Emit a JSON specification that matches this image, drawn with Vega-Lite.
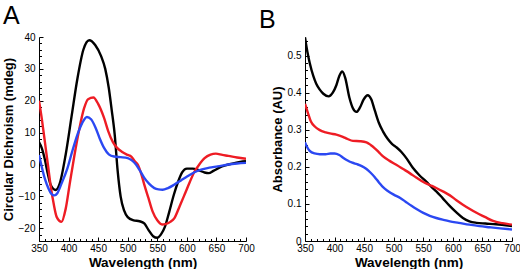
{
  "$schema": "https://vega.github.io/schema/vega-lite/v6.json",
  "padding": {"left": 2, "top": 4, "right": 0, "bottom": 0},
  "background": "white",
  "config": {
    "view": {"stroke": null},
    "font": "Liberation Sans",
    "axis": {
      "grid": false,
      "domainColor": "black",
      "domainWidth": 1,
      "tickColor": "black",
      "tickWidth": 1,
      "labelColor": "black",
      "labelFont": "Liberation Sans",
      "labelFontSize": 10,
      "titleFont": "Liberation Sans",
      "titleFontWeight": "bold",
      "titleColor": "black",
      "labelOverlap": false,
      "labelFlush": false
    },
    "title": {"font": "Liberation Sans", "fontWeight": "normal", "fontSize": 25, "color": "black", "anchor": "start", "frame": "group"}
  },
  "datasets": {
    "cd": [
      {"wl":350,"s":"1","v":7},{"wl":355,"s":"1","v":5},{"wl":360,"s":"1","v":1.5},{"wl":365,"s":"1","v":-3},{"wl":370,"s":"1","v":-6.5},{"wl":378,"s":"1","v":-8},{"wl":385,"s":"1","v":-6},{"wl":395,"s":"1","v":3},{"wl":405,"s":"1","v":15},{"wl":415,"s":"1","v":27},{"wl":425,"s":"1","v":36},{"wl":435,"s":"1","v":39},{"wl":445,"s":"1","v":37.5},{"wl":455,"s":"1","v":34},{"wl":462,"s":"1","v":30},{"wl":468,"s":"1","v":24},{"wl":473,"s":"1","v":17},{"wl":478,"s":"1","v":9.4},{"wl":483,"s":"1","v":-2},{"wl":488,"s":"1","v":-10},{"wl":494,"s":"1","v":-14.5},{"wl":500,"s":"1","v":-16.5},{"wl":510,"s":"1","v":-17.5},{"wl":520,"s":"1","v":-17.8},{"wl":528,"s":"1","v":-18.5},{"wl":535,"s":"1","v":-20.5},{"wl":543,"s":"1","v":-22.5},{"wl":550,"s":"1","v":-23},{"wl":556,"s":"1","v":-22},{"wl":563,"s":"1","v":-19.5},{"wl":570,"s":"1","v":-15},{"wl":578,"s":"1","v":-9.5},{"wl":585,"s":"1","v":-5.5},{"wl":592,"s":"1","v":-2.5},{"wl":600,"s":"1","v":-1.3},{"wl":610,"s":"1","v":-1.3},{"wl":620,"s":"1","v":-1.8},{"wl":630,"s":"1","v":-2.5},{"wl":637,"s":"1","v":-2.7},{"wl":645,"s":"1","v":-2},{"wl":655,"s":"1","v":-1},{"wl":665,"s":"1","v":-0.3},{"wl":675,"s":"1","v":0.2},{"wl":690,"s":"1","v":0.8},{"wl":700,"s":"1","v":1},
      {"wl":350,"s":"2","v":20},{"wl":355,"s":"2","v":14},{"wl":360,"s":"2","v":7},{"wl":365,"s":"2","v":0},{"wl":370,"s":"2","v":-7},{"wl":375,"s":"2","v":-12.5},{"wl":380,"s":"2","v":-16.5},{"wl":388,"s":"2","v":-18},{"wl":395,"s":"2","v":-14},{"wl":402,"s":"2","v":-6},{"wl":410,"s":"2","v":3},{"wl":418,"s":"2","v":11},{"wl":426,"s":"2","v":17.5},{"wl":433,"s":"2","v":20.5},{"wl":442,"s":"2","v":21},{"wl":450,"s":"2","v":19},{"wl":460,"s":"2","v":14.6},{"wl":467,"s":"2","v":10.5},{"wl":475,"s":"2","v":7},{"wl":482,"s":"2","v":5.2},{"wl":490,"s":"2","v":4},{"wl":500,"s":"2","v":3},{"wl":506,"s":"2","v":2.5},{"wl":512,"s":"2","v":1},{"wl":517,"s":"2","v":0},{"wl":523,"s":"2","v":-3},{"wl":528,"s":"2","v":-6.3},{"wl":535,"s":"2","v":-10.5},{"wl":542,"s":"2","v":-14.7},{"wl":550,"s":"2","v":-17.5},{"wl":558,"s":"2","v":-18.8},{"wl":565,"s":"2","v":-18.6},{"wl":572,"s":"2","v":-18},{"wl":579,"s":"2","v":-16.8},{"wl":588,"s":"2","v":-13},{"wl":596,"s":"2","v":-9.5},{"wl":605,"s":"2","v":-5.5},{"wl":613,"s":"2","v":-2.2},{"wl":621,"s":"2","v":0},{"wl":630,"s":"2","v":2},{"wl":640,"s":"2","v":3.1},{"wl":649,"s":"2","v":3.4},{"wl":660,"s":"2","v":3},{"wl":670,"s":"2","v":2.7},{"wl":685,"s":"2","v":2.2},{"wl":700,"s":"2","v":1.8},
      {"wl":350,"s":"3","v":3},{"wl":355,"s":"3","v":-1},{"wl":360,"s":"3","v":-4.5},{"wl":366,"s":"3","v":-7.5},{"wl":371,"s":"3","v":-9.2},{"wl":376,"s":"3","v":-9.7},{"wl":381,"s":"3","v":-9},{"wl":388,"s":"3","v":-6},{"wl":398,"s":"3","v":-1.2},{"wl":406,"s":"3","v":4},{"wl":415,"s":"3","v":9.4},{"wl":423,"s":"3","v":13},{"wl":431,"s":"3","v":14.9},{"wl":438,"s":"3","v":14.2},{"wl":446,"s":"3","v":11.4},{"wl":453,"s":"3","v":8},{"wl":460,"s":"3","v":5.2},{"wl":468,"s":"3","v":3.2},{"wl":477,"s":"3","v":2.5},{"wl":488,"s":"3","v":2.3},{"wl":500,"s":"3","v":2},{"wl":507,"s":"3","v":1.3},{"wl":514,"s":"3","v":0},{"wl":521,"s":"3","v":-2},{"wl":528,"s":"3","v":-4.2},{"wl":536,"s":"3","v":-6},{"wl":545,"s":"3","v":-7.4},{"wl":552,"s":"3","v":-7.8},{"wl":559,"s":"3","v":-7.9},{"wl":568,"s":"3","v":-7.4},{"wl":579,"s":"3","v":-6.3},{"wl":590,"s":"3","v":-5},{"wl":601,"s":"3","v":-3.7},{"wl":612,"s":"3","v":-2.5},{"wl":624,"s":"3","v":-1.6},{"wl":638,"s":"3","v":-1},{"wl":652,"s":"3","v":-0.6},{"wl":670,"s":"3","v":0},{"wl":685,"s":"3","v":0.3},{"wl":700,"s":"3","v":0.5}
    ],
    "abs": [
      {"wl":350,"s":"1","v":0.549},{"wl":354,"s":"1","v":0.51},{"wl":358,"s":"1","v":0.48},{"wl":364,"s":"1","v":0.445},{"wl":369,"s":"1","v":0.424},{"wl":375,"s":"1","v":0.408},{"wl":381,"s":"1","v":0.397},{"wl":390,"s":"1","v":0.39},{"wl":397,"s":"1","v":0.4},{"wl":403,"s":"1","v":0.42},{"wl":408,"s":"1","v":0.445},{"wl":413,"s":"1","v":0.457},{"wl":418,"s":"1","v":0.44},{"wl":425,"s":"1","v":0.387},{"wl":431,"s":"1","v":0.358},{"wl":437,"s":"1","v":0.348},{"wl":443,"s":"1","v":0.36},{"wl":449,"s":"1","v":0.381},{"wl":456,"s":"1","v":0.393},{"wl":462,"s":"1","v":0.382},{"wl":468,"s":"1","v":0.352},{"wl":475,"s":"1","v":0.318},{"wl":482,"s":"1","v":0.295},{"wl":490,"s":"1","v":0.275},{"wl":497,"s":"1","v":0.262},{"wl":505,"s":"1","v":0.252},{"wl":513,"s":"1","v":0.24},{"wl":522,"s":"1","v":0.222},{"wl":532,"s":"1","v":0.198},{"wl":543,"s":"1","v":0.178},{"wl":555,"s":"1","v":0.16},{"wl":565,"s":"1","v":0.144},{"wl":572,"s":"1","v":0.134},{"wl":583,"s":"1","v":0.115},{"wl":595,"s":"1","v":0.094},{"wl":606,"s":"1","v":0.077},{"wl":617,"s":"1","v":0.062},{"wl":628,"s":"1","v":0.053},{"wl":640,"s":"1","v":0.049},{"wl":655,"s":"1","v":0.047},{"wl":673,"s":"1","v":0.045},{"wl":700,"s":"1","v":0.04},
      {"wl":350,"s":"2","v":0.37},{"wl":355,"s":"2","v":0.345},{"wl":360,"s":"2","v":0.322},{"wl":367,"s":"2","v":0.308},{"wl":375,"s":"2","v":0.299},{"wl":385,"s":"2","v":0.293},{"wl":392,"s":"2","v":0.29},{"wl":403,"s":"2","v":0.287},{"wl":414,"s":"2","v":0.281},{"wl":422,"s":"2","v":0.275},{"wl":431,"s":"2","v":0.27},{"wl":443,"s":"2","v":0.269},{"wl":454,"s":"2","v":0.266},{"wl":461,"s":"2","v":0.259},{"wl":468,"s":"2","v":0.25},{"wl":475,"s":"2","v":0.239},{"wl":482,"s":"2","v":0.228},{"wl":493,"s":"2","v":0.216},{"wl":505,"s":"2","v":0.205},{"wl":516,"s":"2","v":0.194},{"wl":527,"s":"2","v":0.183},{"wl":538,"s":"2","v":0.171},{"wl":550,"s":"2","v":0.159},{"wl":561,"s":"2","v":0.151},{"wl":572,"s":"2","v":0.143},{"wl":584,"s":"2","v":0.133},{"wl":595,"s":"2","v":0.123},{"wl":606,"s":"2","v":0.11},{"wl":617,"s":"2","v":0.098},{"wl":628,"s":"2","v":0.087},{"wl":640,"s":"2","v":0.076},{"wl":654,"s":"2","v":0.065},{"wl":668,"s":"2","v":0.054},{"wl":684,"s":"2","v":0.048},{"wl":700,"s":"2","v":0.044},
      {"wl":350,"s":"3","v":0.266},{"wl":354,"s":"3","v":0.252},{"wl":358,"s":"3","v":0.243},{"wl":366,"s":"3","v":0.236},{"wl":375,"s":"3","v":0.234},{"wl":385,"s":"3","v":0.234},{"wl":393,"s":"3","v":0.236},{"wl":400,"s":"3","v":0.236},{"wl":408,"s":"3","v":0.232},{"wl":415,"s":"3","v":0.224},{"wl":422,"s":"3","v":0.217},{"wl":430,"s":"3","v":0.211},{"wl":438,"s":"3","v":0.207},{"wl":446,"s":"3","v":0.202},{"wl":454,"s":"3","v":0.194},{"wl":461,"s":"3","v":0.184},{"wl":468,"s":"3","v":0.172},{"wl":475,"s":"3","v":0.158},{"wl":482,"s":"3","v":0.145},{"wl":490,"s":"3","v":0.135},{"wl":500,"s":"3","v":0.125},{"wl":511,"s":"3","v":0.116},{"wl":520,"s":"3","v":0.106},{"wl":530,"s":"3","v":0.095},{"wl":540,"s":"3","v":0.085},{"wl":550,"s":"3","v":0.076},{"wl":561,"s":"3","v":0.068},{"wl":572,"s":"3","v":0.062},{"wl":584,"s":"3","v":0.057},{"wl":595,"s":"3","v":0.053},{"wl":610,"s":"3","v":0.049},{"wl":628,"s":"3","v":0.044},{"wl":645,"s":"3","v":0.04},{"wl":662,"s":"3","v":0.037},{"wl":680,"s":"3","v":0.034},{"wl":700,"s":"3","v":0.031}
    ]
  },
  "hconcat": [
    {
      "width": 207,
      "height": 204,
      "title": {"text": "A", "dx": -36, "offset": 3},
      "data": {"name": "cd"},
      "mark": {"type": "line", "interpolate": "monotone", "strokeWidth": 2.4, "clip": true},
      "encoding": {
        "x": {
          "field": "wl", "type": "quantitative",
          "scale": {"domain": [350, 700], "nice": false, "zero": false},
          "axis": {
            "title": "Wavelength (nm)", "titleFontSize": 13.5, "titlePadding": 1,
            "values": [350,360,370,380,390,400,410,420,430,440,450,460,470,480,490,500,510,520,530,540,550,560,570,580,590,600,610,620,630,640,650,660,670,680,690,700],
            "labelExpr": "datum.value % 50 === 0 ? datum.label : ''",
            "tickSize": {"condition": {"test": "datum.value % 50 === 0", "value": -4}, "value": -2.5},
            "labelPadding": 6
          }
        },
        "y": {
          "field": "v", "type": "quantitative",
          "scale": {"domain": [-24, 40], "nice": false, "zero": false},
          "axis": {
            "title": "Circular Dichroism (mdeg)", "titleFontSize": 13, "titlePadding": 3,
            "values": [-24,-22,-20,-18,-16,-14,-12,-10,-8,-6,-4,-2,0,2,4,6,8,10,12,14,16,18,20,22,24,26,28,30,32,34,36,38,40],
            "labelExpr": "datum.value % 10 === 0 ? datum.label : ''",
            "tickSize": {"condition": {"test": "datum.value % 10 === 0", "value": -4}, "value": -2.5},
            "labelPadding": 8
          }
        },
        "color": {
          "field": "s", "type": "nominal", "legend": null,
          "scale": {"domain": ["1", "2", "3"], "range": ["#000000", "#ee1c24", "#2b48f2"]}
        }
      }
    },
    {
      "width": 207,
      "height": 204,
      "title": {"text": "B", "dx": -46, "offset": 3},
      "data": {"name": "abs"},
      "mark": {"type": "line", "interpolate": "monotone", "strokeWidth": 2.4, "clip": true},
      "encoding": {
        "x": {
          "field": "wl", "type": "quantitative",
          "scale": {"domain": [350, 700], "nice": false, "zero": false},
          "axis": {
            "title": "Wavelength (nm)", "titleFontSize": 13.5, "titlePadding": 1,
            "values": [350,360,370,380,390,400,410,420,430,440,450,460,470,480,490,500,510,520,530,540,550,560,570,580,590,600,610,620,630,640,650,660,670,680,690,700],
            "labelExpr": "datum.value % 50 === 0 ? datum.label : ''",
            "tickSize": {"condition": {"test": "datum.value % 50 === 0", "value": -4}, "value": -2.5},
            "labelPadding": 6
          }
        },
        "y": {
          "field": "v", "type": "quantitative",
          "scale": {"domain": [0, 0.55], "nice": false, "zero": false},
          "axis": {
            "title": "Absorbance (AU)", "titleFontSize": 13, "titlePadding": 3,
            "values": [0,0.02,0.04,0.06,0.08,0.1,0.12,0.14,0.16,0.18,0.2,0.22,0.24,0.26,0.28,0.3,0.32,0.34,0.36,0.38,0.4,0.42,0.44,0.46,0.48,0.5,0.52,0.54],
            "labelExpr": "abs(datum.value * 10 - round(datum.value * 10)) < 0.000001 ? (datum.value === 0 ? '0' : format(datum.value, '.1f')) : ''",
            "tickSize": {"condition": {"test": "abs(datum.value * 10 - round(datum.value * 10)) < 0.000001", "value": -4}, "value": -2.5},
            "labelPadding": 8
          }
        },
        "color": {
          "field": "s", "type": "nominal", "legend": null,
          "scale": {"domain": ["1", "2", "3"], "range": ["#000000", "#ee1c24", "#2b48f2"]}
        }
      }
    }
  ],
  "spacing": 4
}
